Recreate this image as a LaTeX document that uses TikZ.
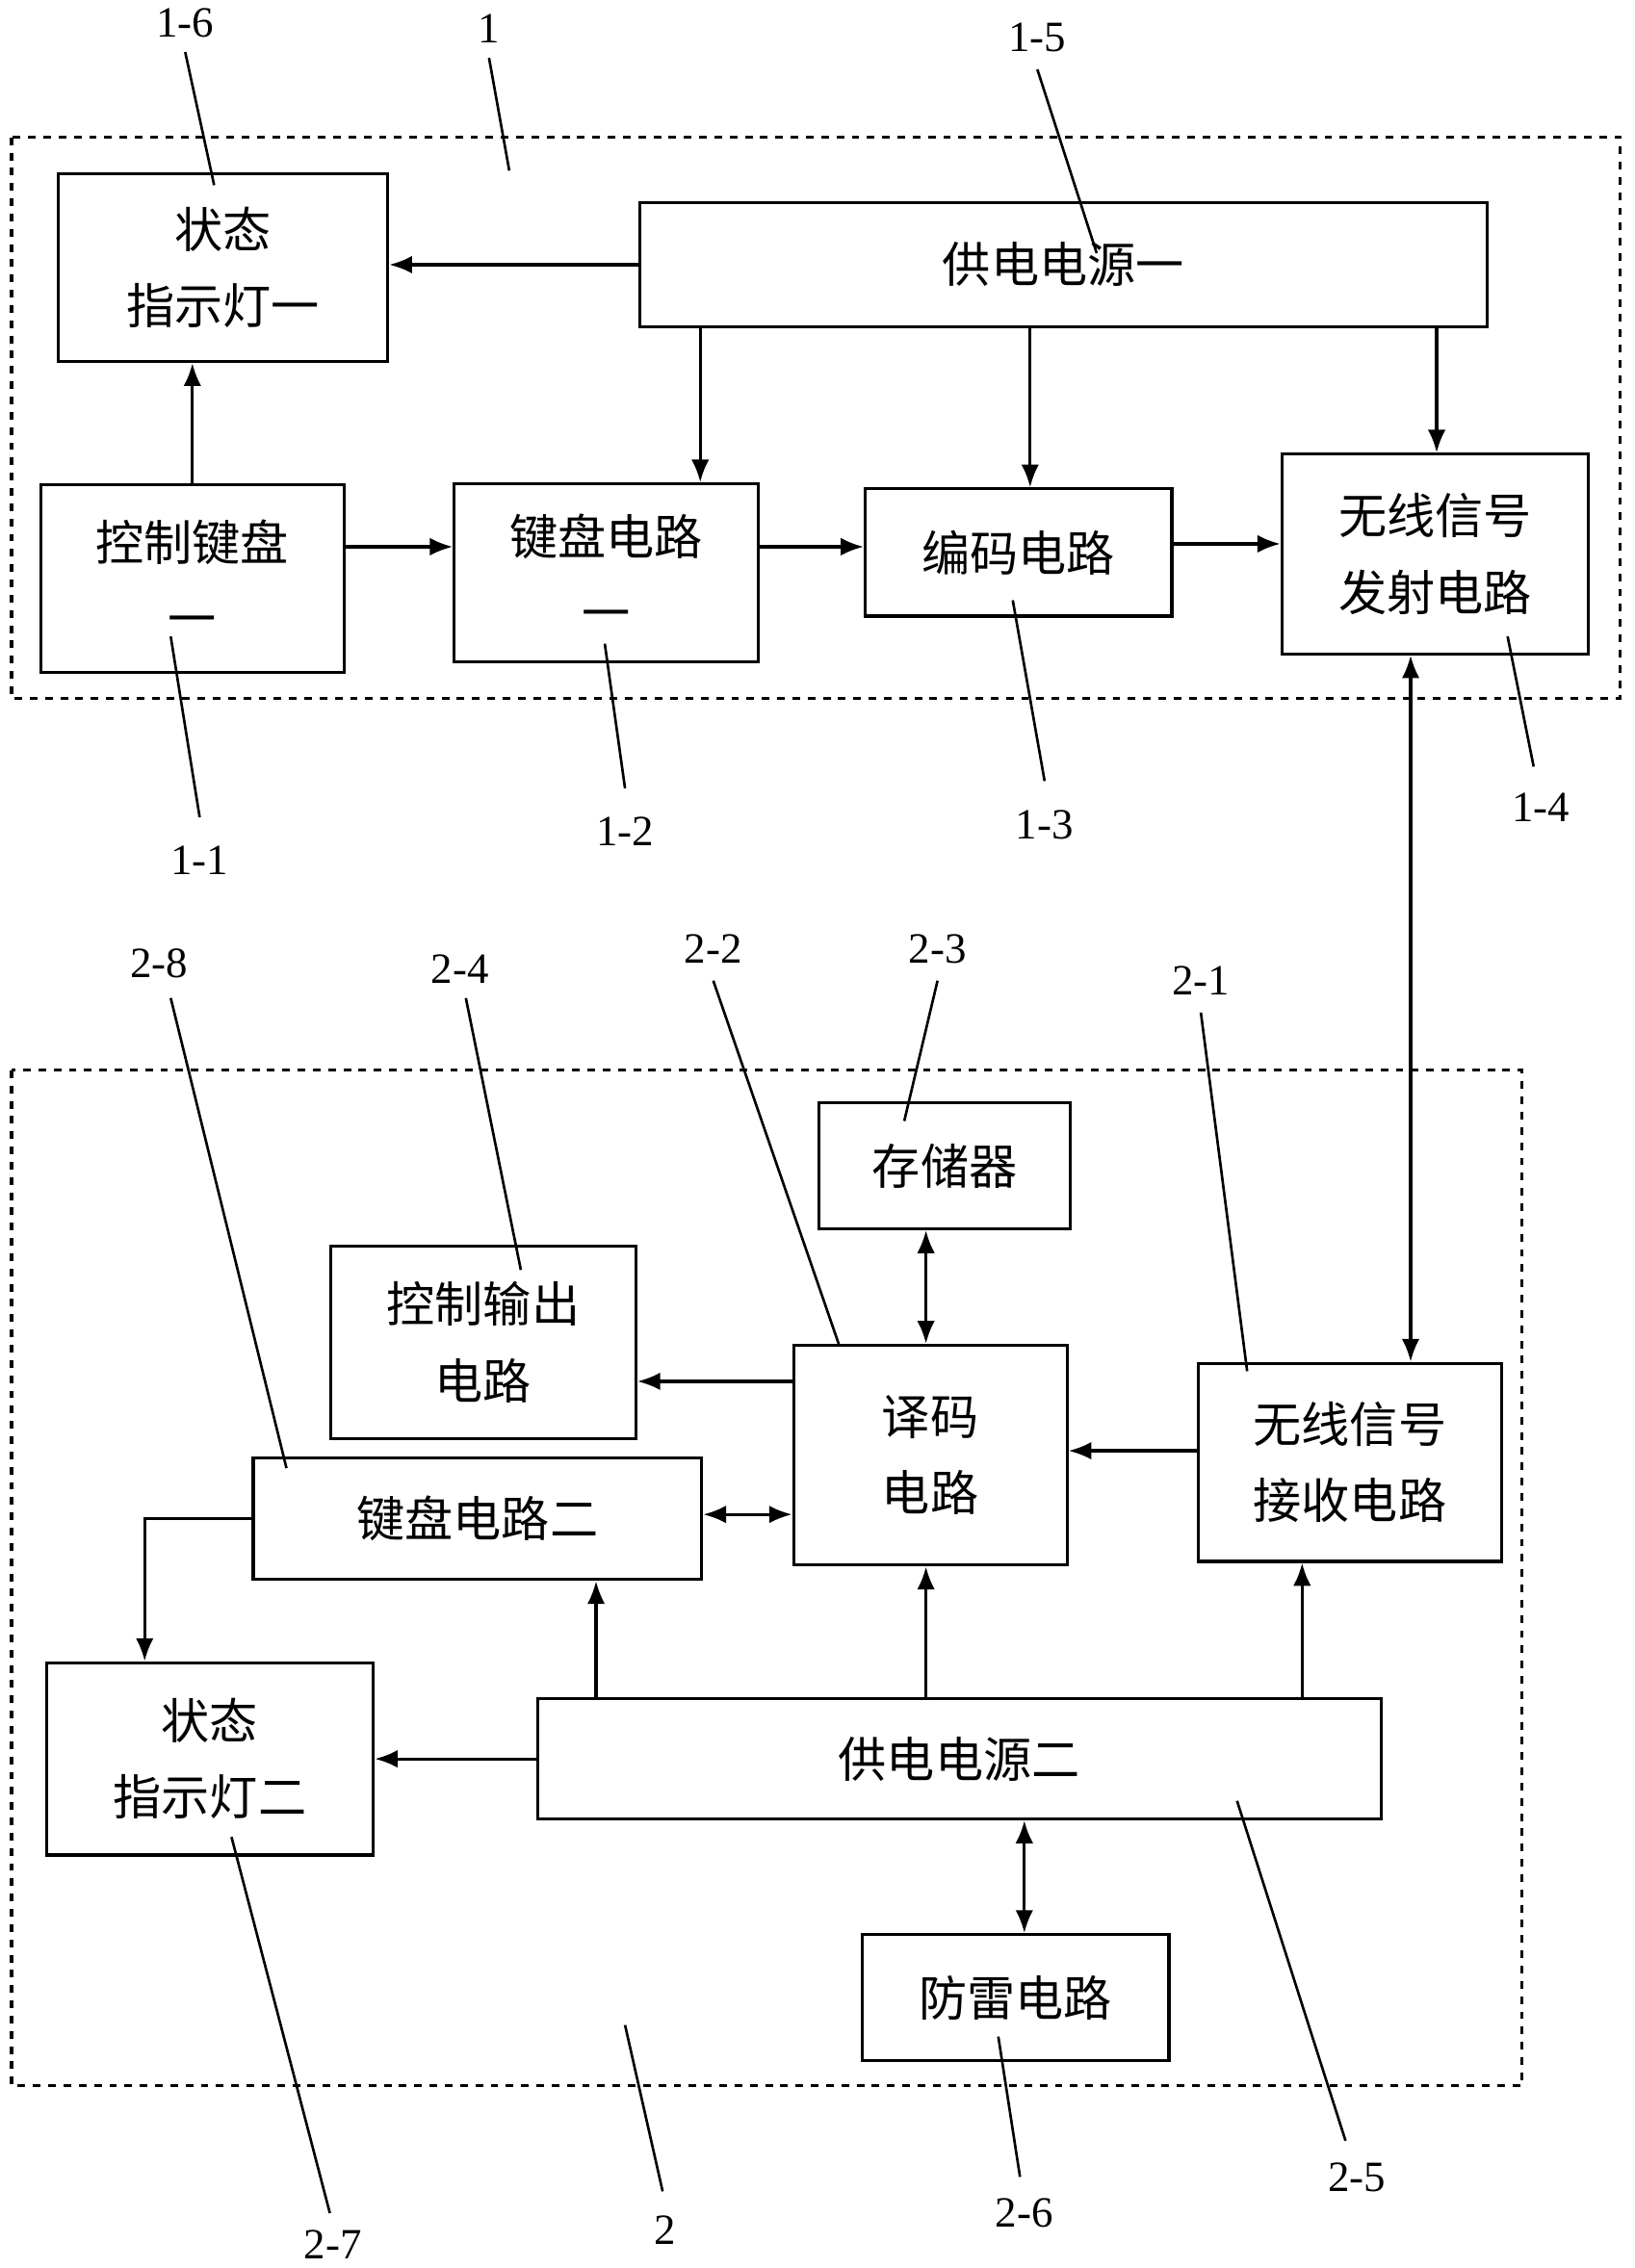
\documentclass[tikz,border=0pt]{standalone}
\usepackage{fontspec}
\setmainfont{Liberation Serif}
\newfontfamily\cjk{Noto Sans CJK SC}
\usetikzlibrary{arrows.meta, positioning, calc}

\begin{document}
\begin{tikzpicture}[
    x=0.02cm, y=-0.02cm,
    box/.style={rectangle, draw, line width=1.2pt, align=center, inner sep=0pt, font=\cjk\fontsize{19}{30}\selectfont},
    group/.style={draw, dashed, line width=1.2pt},
    arrow/.style={-{Latex[length=9pt,width=7pt]}, line width=1.2pt},
    darrow/.style={{Latex[length=9pt,width=7pt]}-{Latex[length=9pt,width=7pt]}, line width=1.2pt},
    tag/.style={font=\fontsize{17}{20}\selectfont},
    lead/.style={line width=1pt}
]
\useasboundingbox (0,0) rectangle (1130,1568);

% Groups
\draw[group] (8,95) rectangle (1120,483);
\draw[group] (8,740) rectangle (1052,1442);

% Transmitter
\node[box, minimum width=4.56cm, minimum height=2.6cm] (led1) at (154,185) {状态\\指示灯一};
\node[box, minimum width=11.72cm, minimum height=1.72cm] (pw1) at (735,183) {供电电源一};
\node[box, minimum width=4.2cm, minimum height=2.6cm] (key1) at (133,400) {控制键盘\\一};
\node[box, minimum width=4.2cm, minimum height=2.46cm] (kb1) at (419,396) {键盘电路\\一};
\node[box, minimum width=4.24cm, minimum height=1.76cm] (enc) at (704,382) {编码电路};
\node[box, minimum width=4.24cm, minimum height=2.76cm] (tx) at (992,383) {无线信号\\发射电路};

% Receiver
\node[box, minimum width=3.48cm, minimum height=1.74cm] (mem) at (653,806) {存储器};
\node[box, minimum width=4.22cm, minimum height=2.66cm] (out) at (334,928) {控制输出\\电路};
\node[box, minimum width=3.78cm, minimum height=3.04cm] (dec) at (643,1006) {译码\\电路};
\node[box, minimum width=4.2cm, minimum height=2.74cm] (rx) at (933,1011) {无线信号\\接收电路};
\node[box, minimum width=6.2cm, minimum height=1.68cm] (kb2) at (330,1050) {键盘电路二};
\node[box, minimum width=4.52cm, minimum height=2.66cm] (led2) at (145,1216) {状态\\指示灯二};
\node[box, minimum width=11.66cm, minimum height=1.66cm] (pw2) at (663,1216) {供电电源二};
\node[box, minimum width=4.24cm, minimum height=1.74cm] (thr) at (702,1381) {防雷电路};

% Column coordinates
\coordinate (c1) at (484,0);
\coordinate (c2) at (712,0);
\coordinate (c3) at (993,0);
\coordinate (c4) at (975,0);
\coordinate (c5) at (412,0);
\coordinate (c6) at (640,0);
\coordinate (c7) at (900,0);
\coordinate (c8) at (708,0);
\coordinate (c9) at (100,1050);

% Arrows
\draw[arrow] (pw1.west) -- (pw1.west -| led1.east);
\draw[arrow] (key1.north) -- (led1.south -| key1.north);
\draw[arrow] (pw1.south -| c1) -- (kb1.north -| c1);
\draw[arrow] (pw1.south -| c2) -- (enc.north -| c2);
\draw[arrow] (pw1.south -| c3) -- (tx.north -| c3);
\draw[arrow] (key1.east |- 0,378) -- (kb1.west |- 0,378);
\draw[arrow] (kb1.east |- 0,378) -- (enc.west |- 0,378);
\draw[arrow] (enc.east |- 0,376) -- (tx.west |- 0,376);
\draw[darrow] (tx.south -| c4) -- (rx.north -| c4);
\draw[darrow] (mem.south -| c6) -- (dec.north -| c6);
\draw[arrow] (dec.west |- 0,955) -- (out.east |- 0,955);
\draw[arrow] (rx.west |- 0,1003) -- (dec.east |- 0,1003);
\draw[darrow] (kb2.east |- 0,1047) -- (dec.west |- 0,1047);
\draw[arrow] (kb2.west) -- (c9) -- (led2.north -| c9);
\draw[arrow] (pw2.west) -- (pw2.west -| led2.east);
\draw[arrow] (pw2.north -| c5) -- (kb2.south -| c5);
\draw[arrow] (pw2.north -| c6) -- (dec.south -| c6);
\draw[arrow] (pw2.north -| c7) -- (rx.south -| c7);
\draw[darrow] (pw2.south -| c8) -- (thr.north -| c8);

% Labels
\node[tag] (t16) at (128,16) {1-6};
\draw[lead] (128,36) -- (148,128);
\node[tag] (t1) at (338,20) {1};
\draw[lead] (338,40) -- (352,118);
\node[tag] (t15) at (717,26) {1-5};
\draw[lead] (717,48) -- (758,175);
\node[tag] (t11) at (138,595) {1-1};
\draw[lead] (138,565) -- (118,440);
\node[tag] (t12) at (432,575) {1-2};
\draw[lead] (432,545) -- (418,445);
\node[tag] (t13) at (722,570) {1-3};
\draw[lead] (722,540) -- (700,415);
\node[tag] (t14) at (1065,558) {1-4};
\draw[lead] (1060,530) -- (1042,440);
\node[tag] (t28) at (110,666) {2-8};
\draw[lead] (118,690) -- (198,1015);
\node[tag] (t24) at (318,670) {2-4};
\draw[lead] (322,690) -- (360,878);
\node[tag] (t22) at (493,656) {2-2};
\draw[lead] (493,678) -- (580,930);
\node[tag] (t23) at (648,656) {2-3};
\draw[lead] (648,678) -- (625,775);
\node[tag] (t21) at (830,678) {2-1};
\draw[lead] (830,700) -- (862,948);
\node[tag] (t27) at (230,1552) {2-7};
\draw[lead] (228,1530) -- (160,1270);
\node[tag] (t2) at (460,1542) {2};
\draw[lead] (458,1515) -- (432,1400);
\node[tag] (t26) at (708,1530) {2-6};
\draw[lead] (705,1505) -- (690,1408);
\node[tag] (t25) at (938,1505) {2-5};
\draw[lead] (930,1480) -- (855,1245);

\end{tikzpicture}
\end{document}
